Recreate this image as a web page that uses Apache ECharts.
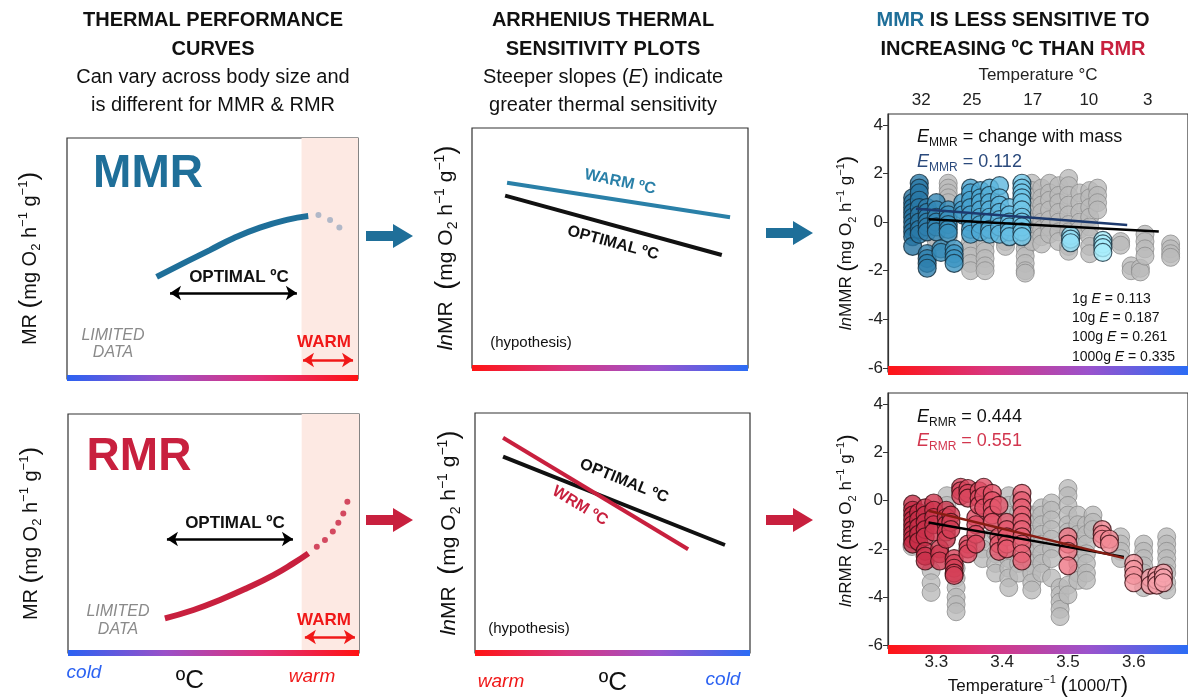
<!DOCTYPE html>
<html>
<head>
<meta charset="utf-8">
<script src="https://cdn.jsdelivr.net/npm/echarts@6/dist/echarts.min.js"></script>
<style>
  html, body { margin: 0; padding: 0; background: #fff; }
  #chart { width: 1188px; height: 698px; }
</style>
</head>
<body>
<div id="chart"></div>
<script>
const FONT = "'Liberation Sans', Arial, sans-serif";

// ---- conceptual panels (0-100 panel units) ----
const mmrCurve = [[30.8, 42.4], [41.1, 48.7], [49.1, 53.5], [57.2, 58.4], [66.3, 62.8], [75.5, 66.0], [82.9, 67.6]];
const mmrCurveDots = [[86.4, 68.0], [90.4, 66.0], [93.6, 62.9]];
const rmrCurve = [[33.3, 14.5], [43.1, 18.0], [52.2, 22.2], [61.4, 27.1], [70.6, 32.6], [77.4, 37.5], [82.6, 41.7]];
const rmrCurveDots = [[85.5, 44.5], [88.3, 47.3], [91.0, 50.8], [92.9, 54.5], [94.6, 58.4], [96.0, 63.3]];
const warmZone = [80.6, 100];
const optimalArrowTop = [[35.4, 35.7], [79.0, 35.7]];
const warmArrowTop = [[81.1, 7.9], [98.3, 7.9]];
const optimalArrowBot = [[34.0, 47.7], [77.3, 47.7]];
const warmArrowBot = [[81.4, 6.7], [98.6, 6.7]];

const hypWarmMMR = [[12.7, 77.2], [93.5, 62.8]];
const hypOptMMR = [[12.0, 71.8], [90.5, 47.1]];
const hypWarmRMR = [[10.2, 89.7], [77.5, 43.2]];
const hypOptRMR = [[10.2, 81.8], [90.9, 45.0]];

// ---- data panels: columns of [1000/T, [lnMR values]] ----
const mmrFocal = [
  [3.264, [1.0, 0.8, 0.6, 0.4, 0.2, 0.0, -0.2, -0.4, -0.6, -1.0]],
  [3.274, [1.6, 1.4, 1.2, 0.9, 0.6, 0.3, 0.0, -0.3, -0.5]],
  [3.286, [0.6, 0.4, 0.2, 0.0, -0.2, -0.4, -1.3, -1.5, -1.7, -1.9]],
  [3.300, [0.8, 0.5, 0.2, 0.0, -0.2, -0.4]],
  [3.307, [-1.1, -1.25]],
  [3.318, [0.5, 0.3, 0.1, -0.1, -0.3, -0.45]],
  [3.327, [-1.1, -1.3, -1.5, -1.7]],
  [3.340, [0.8, 0.5, 0.3]],
  [3.352, [1.4, 1.2, 0.9, 0.6, 0.3, 0.0, -0.3, -0.5]],
  [3.367, [1.3, 1.0, 0.8, 0.5, 0.2, -0.1, -0.4]],
  [3.381, [1.4, 1.1, 0.8, 0.5, 0.2, 0.0, -0.3, -0.5]],
  [3.396, [1.5, 1.0, 0.7, 0.4, 0.1, -0.2, -0.5]],
  [3.411, [0.6, 0.3, 0.0, -0.2, -0.4, -0.6]],
  [3.430, [1.6, 1.4, 1.2, 1.0, 0.8, 0.5, 0.2, 0.0, -0.2, -0.4, -0.6]],
  [3.504, [-0.55, -0.7, -0.85]],
  [3.553, [-0.75, -0.9, -1.05, -1.25]]
];
const mmrAll = [
  [3.300, [-0.6, -0.8]],
  [3.318, [1.6, 1.4, 1.2, 1.0, 0.8, -0.6]],
  [3.352, [-0.8, -1.1, -1.4, -1.7, -2.0]],
  [3.374, [-0.9, -1.2, -1.5, -1.8, -2.0]],
  [3.405, [-0.8, -1.0]],
  [3.435, [-0.8, -1.1, -1.4, -1.7, -2.0, -2.1]],
  [3.445, [1.6, 1.3, 1.0, 0.6, 0.3, 0.0, -0.4, -0.8]],
  [3.460, [1.4, 1.0, 0.7, 0.4, 0.0, -0.3, -0.6, -0.9]],
  [3.472, [1.6, 1.2, 0.9, 0.5, 0.1, -0.2, -0.5]],
  [3.486, [1.5, 1.1, 0.8, 0.4, 0.0, -0.4, -0.8]],
  [3.501, [1.8, 1.5, 1.1, 0.7, 0.3, -0.1, -0.4, -1.0, -1.2]],
  [3.518, [1.2, 0.8, 0.4, 0.0, -0.3]],
  [3.533, [1.3, 1.0, 0.6, 0.2, -0.2, -0.6, -1.0, -1.3]],
  [3.545, [1.4, 1.1, 0.8, 0.5]],
  [3.580, [-0.8, -0.95]],
  [3.596, [-1.8, -2.0]],
  [3.610, [-1.9, -2.05]],
  [3.617, [-0.5, -0.8, -1.1, -1.4]],
  [3.656, [-0.9, -1.1, -1.3, -1.45]]
];
const rmrFocal = [
  [3.264, [-0.15, -0.4, -0.6, -0.8, -1.0, -1.2, -1.4, -1.6, -1.8]],
  [3.273, [-0.5, -0.8, -1.1, -1.4, -1.7]],
  [3.283, [-0.3, -0.6, -0.9, -1.2, -1.5, -2.1, -2.3, -2.5]],
  [3.296, [-0.1, -0.4, -0.7, -1.0, -1.3]],
  [3.305, [-2.0, -2.2, -2.5]],
  [3.315, [-0.4, -0.7, -1.0, -1.3, -1.6]],
  [3.322, [-0.6, -0.9, -1.2]],
  [3.327, [-2.4, -2.6, -2.8, -3.0, -3.1]],
  [3.337, [0.55, 0.4, 0.2]],
  [3.348, [0.5, 0.3, 0.1, -1.8, -2.0, -2.2]],
  [3.360, [-0.7, -1.0, -1.4, -1.8]],
  [3.365, [0.4, 0.1, -0.2]],
  [3.372, [0.55, 0.2, -0.3]],
  [3.385, [0.3, 0.0, -0.3, -0.6, -0.9]],
  [3.395, [-0.2, -1.5, -1.8, -2.1]],
  [3.407, [-0.9, -1.2, -1.5, -1.8, -2.0]],
  [3.430, [0.3, 0.0, -0.3, -0.6, -0.9, -1.2, -1.5, -1.8, -2.2, -2.5]],
  [3.500, [-1.5, -1.8, -2.1, -2.7]],
  [3.552, [-1.2, -1.4, -1.6]],
  [3.563, [-1.6, -1.8]],
  [3.600, [-2.6, -2.85, -3.1, -3.4]],
  [3.625, [-3.2, -3.5]],
  [3.635, [-3.1, -3.3, -3.5]],
  [3.645, [-3.0, -3.2, -3.4]]
];
const rmrAll = [
  [3.263, [-1.8, -1.9]],
  [3.292, [-2.9, -3.4, -3.8]],
  [3.316, [0.2, -0.2, -0.5, -0.9, -1.5]],
  [3.330, [-2.8, -3.2, -3.6, -4.0, -4.3, -4.6]],
  [3.370, [-1.6, -2.0, -2.4]],
  [3.390, [-0.5, -0.9, -1.3, -2.2, -2.6, -3.0]],
  [3.410, [0.2, -0.2, -0.6, -1.0, -2.4, -2.8, -3.2, -3.6]],
  [3.425, [0.0, -0.5, -2.6, -3.0]],
  [3.445, [-0.6, -1.0, -1.4, -1.8, -2.2, -2.6, -3.0, -3.4, -3.7]],
  [3.460, [-0.3, -0.6, -1.0, -1.4, -1.8, -2.2, -2.6, -3.0]],
  [3.475, [-0.1, -0.4, -0.8, -1.2, -1.6, -2.0, -2.4, -3.2]],
  [3.488, [-3.6, -3.9, -4.2, -4.5, -4.8]],
  [3.500, [0.5, 0.2, -0.2, -0.6, -1.0, -1.3, -3.5, -3.9]],
  [3.515, [-0.6, -1.0, -1.4, -1.8, -2.2, -2.6, -3.0, -3.3]],
  [3.528, [-1.0, -1.4, -1.8, -2.2, -2.6, -3.0, -3.3]],
  [3.538, [-0.6, -0.9, -1.2]],
  [3.580, [-1.5, -1.8, -2.1, -2.4]],
  [3.615, [-1.8, -2.1, -2.4, -2.7, -3.0, -3.3, -3.6]],
  [3.650, [-1.5, -1.8, -2.1, -2.4, -2.7, -3.0, -3.4, -3.7]]
];
const mmrFitFocal = [[3.269, 0.55], [3.590, -0.12]];
const mmrFitAll = [[3.288, 0.12], [3.638, -0.39]];
const rmrFitAll = [[3.288, -0.91], [3.585, -2.33]];
const rmrFitFocal = [[3.288, -0.42], [3.585, -2.38]];

const tempTicksC = [32, 25, 17, 10, 3];
const invTicks = [3.3, 3.4, 3.5, 3.6];
const yTicks = [-6, -4, -2, 0, 2, 4];
const massLabels = ['1g', '10g', '100g', '1000g'];
const massE = ['0.113', '0.187', '0.261', '0.335'];

const XMIN = 3.2265, XMAX = 3.2265 + 310 / 680;

const BLUE = '#1f6f99', RED = '#c8203e', WARMRED = '#f01818';

function flatten(cols) {
  const out = [];
  cols.forEach(c => c[1].forEach(v => out.push([c[0], v])));
  return out;
}

// rich styles for axis names (O2 subscript, -1 superscripts)
function unitRich(s) {
  return {
    it: { fontFamily: FONT, fontSize: s, fontStyle: 'italic', color: '#111', lineHeight: s + 6 },
    n: { fontFamily: FONT, fontSize: s, color: '#111', lineHeight: s + 6 },
    pa: { fontFamily: FONT, fontSize: Math.round(s * 1.3), color: '#111', lineHeight: s + 6 },
    sb: { fontFamily: FONT, fontSize: Math.round(s * 0.65), color: '#111', verticalAlign: 'bottom', lineHeight: Math.round(s * 0.65) },
    sp: { fontFamily: FONT, fontSize: Math.round(s * 0.65), color: '#111', verticalAlign: 'top', lineHeight: Math.round(s * 0.65) }
  };
}
const unitTail = '{pa|(}{n|mg O}{sb|2}{n| h}{sp|−1}{n| g}{sp|−1}{pa|)}';

function conceptY(gi, name, gap, size) {
  return {
    gridIndex: gi, type: 'value', min: 0, max: 100,
    axisLine: { show: false }, axisTick: { show: false }, axisLabel: { show: false }, splitLine: { show: false },
    name: name, nameLocation: 'middle', nameRotate: 90, nameGap: gap,
    nameTextStyle: { rich: unitRich(size) }
  };
}
function conceptX(gi) {
  return { gridIndex: gi, type: 'value', min: 0, max: 100, show: false };
}
function dataY(gi, name, min) {
  return {
    gridIndex: gi, type: 'value', min: min, max: 4.45,
    axisLine: { show: true, lineStyle: { color: '#333', width: 1.2 } },
    axisTick: { show: true, length: 5, customValues: yTicks, lineStyle: { color: '#333' } },
    axisLabel: { customValues: yTicks, fontSize: 17, color: '#222', margin: 5, fontFamily: FONT },
    splitLine: { show: false },
    name: name, nameLocation: 'middle', nameRotate: 90, nameGap: 30,
    nameTextStyle: { rich: unitRich(17) }
  };
}

const gridStyle = { show: true, borderColor: '#333', borderWidth: 1.2, backgroundColor: 'transparent' };

const series = [];
function add(s) { series.push(s); return series.length - 1; }

function arrowLine(pts, color) {
  return [{ coord: pts[0], lineStyle: { color: color, width: 2.5, type: 'solid' } }, { coord: pts[1] }];
}

// left column
add({
  type: 'line', xAxisIndex: 0, yAxisIndex: 0, data: mmrCurve, smooth: true, showSymbol: false,
  lineStyle: { color: BLUE, width: 6 },
  markArea: { silent: true, itemStyle: { color: '#fde9e3' }, data: [[{ xAxis: warmZone[0] }, { xAxis: warmZone[1] }]] },
  markLine: { silent: true, symbol: ['arrow', 'arrow'], symbolSize: 11, label: { show: false },
    data: [arrowLine(optimalArrowTop, '#000'), arrowLine(warmArrowTop, WARMRED)] }
});
add({ type: 'scatter', xAxisIndex: 0, yAxisIndex: 0, data: mmrCurveDots, symbolSize: 6, itemStyle: { color: '#9eabc0' } });
add({
  type: 'line', xAxisIndex: 1, yAxisIndex: 1, data: rmrCurve, smooth: true, showSymbol: false,
  lineStyle: { color: RED, width: 6 },
  markArea: { silent: true, itemStyle: { color: '#fde9e3' }, data: [[{ xAxis: 80.3 }, { xAxis: 100 }]] },
  markLine: { silent: true, symbol: ['arrow', 'arrow'], symbolSize: 11, label: { show: false },
    data: [arrowLine(optimalArrowBot, '#000'), arrowLine(warmArrowBot, WARMRED)] }
});
add({ type: 'scatter', xAxisIndex: 1, yAxisIndex: 1, data: rmrCurveDots, symbolSize: 6, itemStyle: { color: RED } });

// middle column
add({ type: 'line', xAxisIndex: 2, yAxisIndex: 2, data: hypWarmMMR, showSymbol: false, lineStyle: { color: '#2a80a8', width: 4 } });
add({ type: 'line', xAxisIndex: 2, yAxisIndex: 2, data: hypOptMMR, showSymbol: false, lineStyle: { color: '#111', width: 4 } });
add({ type: 'line', xAxisIndex: 3, yAxisIndex: 3, data: hypOptRMR, showSymbol: false, lineStyle: { color: '#111', width: 4 } });
add({ type: 'line', xAxisIndex: 3, yAxisIndex: 3, data: hypWarmRMR, showSymbol: false, lineStyle: { color: RED, width: 4 } });

// right column
const grayStyle = { color: '#bababa', borderColor: '#8c8c8c', borderWidth: 1 };
add({ type: 'scatter', xAxisIndex: 4, yAxisIndex: 4, data: flatten(mmrAll), symbolSize: 18, itemStyle: grayStyle });
const mmrIdx = add({ type: 'scatter', xAxisIndex: 4, yAxisIndex: 4, data: flatten(mmrFocal), symbolSize: 18,
  itemStyle: { borderColor: '#17303f', borderWidth: 1.2 } });
add({ type: 'line', xAxisIndex: 4, yAxisIndex: 4, data: mmrFitAll, showSymbol: false, lineStyle: { color: '#000', width: 2.5 } });
add({ type: 'line', xAxisIndex: 4, yAxisIndex: 4, data: mmrFitFocal, showSymbol: false, lineStyle: { color: '#1d3a6e', width: 2.5 } });

add({ type: 'scatter', xAxisIndex: 6, yAxisIndex: 5, data: flatten(rmrAll), symbolSize: 18, itemStyle: grayStyle });
const rmrIdx = add({ type: 'scatter', xAxisIndex: 6, yAxisIndex: 5, data: flatten(rmrFocal), symbolSize: 18,
  itemStyle: { borderColor: '#3a0c12', borderWidth: 1.2 } });
add({ type: 'line', xAxisIndex: 6, yAxisIndex: 5, data: rmrFitAll, showSymbol: false, lineStyle: { color: '#000', width: 2.5 } });
add({ type: 'line', xAxisIndex: 6, yAxisIndex: 5, data: rmrFitFocal, showSymbol: false, lineStyle: { color: '#861c12', width: 2.5 } });

// ---- decorations ----
function grad(colors) {
  return { type: 'linear', x: 0, y: 0, x2: 1, y2: 0,
    colorStops: colors.map((c, i) => ({ offset: i / (colors.length - 1), color: c })) };
}
const coldWarm = ['#2b62f2', '#9a50c8', '#e0307a', '#ff1212'];
const warmCold = ['#ff1414', '#d9357f', '#9b52cc', '#2b6cf5'];
function bar(x, y, w, h, colors) {
  return { type: 'rect', z: 50, shape: { x: x, y: y, width: w, height: h }, style: { fill: grad(colors) } };
}
function T(x, y, text, style, rot) {
  return { type: 'text', x: x, y: y, z: 60, rotation: (rot || 0) * Math.PI / 180,
    style: Object.assign({ text: text, fontFamily: FONT, fontSize: 20, fill: '#111', align: 'center', verticalAlign: 'middle' }, style || {}) };
}
function bigArrow(x, y, color) {
  return { type: 'polygon', x: x, y: y, z: 40,
    shape: { points: [[0, -5], [27, -5], [27, -12], [47, 0], [27, 12], [27, 5], [0, 5]] }, style: { fill: color } };
}
const eRich = (color) => ({
  i: { fontFamily: FONT, fontSize: 18, fontStyle: 'italic', fill: color, lineHeight: 24 },
  s: { fontFamily: FONT, fontSize: 12, fill: color, verticalAlign: 'bottom', lineHeight: 12 },
  n: { fontFamily: FONT, fontSize: 18, fill: color, lineHeight: 24 }
});
const massRich = { i: { fontFamily: FONT, fontSize: 14, fontStyle: 'italic', fill: '#111' } };

const graphic = [
  bar(67, 375, 291, 6, coldWarm),
  bar(68, 650, 291, 6, coldWarm),
  bar(472, 365, 276, 6, warmCold),
  bar(475, 650, 275, 6, warmCold),
  bar(888, 366, 300, 9, warmCold),
  bar(888, 645, 300, 9, warmCold),
  bigArrow(366, 236, BLUE), bigArrow(766, 233, BLUE),
  bigArrow(366, 520, RED), bigArrow(766, 520, RED),

  T(213, 20, 'THERMAL PERFORMANCE', { fontWeight: 'bold' }),
  T(213, 49, 'CURVES', { fontWeight: 'bold' }),
  T(213, 77, 'Can vary across body size and'),
  T(213, 105, 'is different for MMR & RMR'),
  T(603, 20, 'ARRHENIUS THERMAL', { fontWeight: 'bold' }),
  T(603, 49, 'SENSITIVITY PLOTS', { fontWeight: 'bold' }),
  T(603, 77, 'Steeper slopes ({i|E}) indicate', { rich: { i: { fontFamily: FONT, fontSize: 20, fontStyle: 'italic', fill: '#111' } } }),
  T(603, 105, 'greater thermal sensitivity'),
  T(1013, 20, '{b|MMR} IS LESS SENSITIVE TO', { fontWeight: 'bold', rich: { b: { fontFamily: FONT, fontSize: 20, fontWeight: 'bold', fill: BLUE } } }),
  T(1013, 49, 'INCREASING ºC THAN {r|RMR}', { fontWeight: 'bold', rich: { r: { fontFamily: FONT, fontSize: 20, fontWeight: 'bold', fill: RED } } }),

  T(148, 174, 'MMR', { fontWeight: 'bold', fontSize: 46, fill: BLUE }),
  T(239, 277, 'OPTIMAL ºC', { fontWeight: 'bold', fontSize: 17 }),
  T(113, 336, 'LIMITED', { fontStyle: 'italic', fontSize: 16, fill: '#8a8a8a' }),
  T(113, 353, 'DATA', { fontStyle: 'italic', fontSize: 16, fill: '#8a8a8a' }),
  T(324, 342, 'WARM', { fontWeight: 'bold', fontSize: 17, fill: WARMRED }),

  T(139, 457, 'RMR', { fontWeight: 'bold', fontSize: 46, fill: RED }),
  T(235, 523, 'OPTIMAL ºC', { fontWeight: 'bold', fontSize: 17 }),
  T(118, 612, 'LIMITED', { fontStyle: 'italic', fontSize: 16, fill: '#8a8a8a' }),
  T(118, 630, 'DATA', { fontStyle: 'italic', fontSize: 16, fill: '#8a8a8a' }),
  T(324, 620, 'WARM', { fontWeight: 'bold', fontSize: 17, fill: WARMRED }),
  T(84, 673, 'cold', { fontStyle: 'italic', fontSize: 19, fill: '#2b62f2' }),
  T(190, 681, 'ºC', { fontSize: 26 }),
  T(312, 677, 'warm', { fontStyle: 'italic', fontSize: 19, fill: WARMRED }),

  T(620, 182, 'WARM ºC', { fontWeight: 'bold', fontSize: 16, fill: '#2a80a8' }, -12),
  T(613, 243, 'OPTIMAL ºC', { fontWeight: 'bold', fontSize: 16 }, -15),
  T(531, 343, '(hypothesis)', { fontSize: 15 }),
  T(624, 481, 'OPTIMAL ºC', { fontWeight: 'bold', fontSize: 16 }, -22),
  T(580, 506, 'WRM ºC', { fontWeight: 'bold', fontSize: 16, fill: RED }, -31),
  T(529, 629, '(hypothesis)', { fontSize: 15 }),
  T(501, 682, 'warm', { fontStyle: 'italic', fontSize: 19, fill: WARMRED }),
  T(613, 683, 'ºC', { fontSize: 26 }),
  T(723, 680, 'cold', { fontStyle: 'italic', fontSize: 19, fill: '#2b62f2' }),

  T(917, 137, '{i|E}{s|MMR}{n| = change with mass}', { align: 'left', rich: eRich('#111') }),
  T(917, 162, '{i|E}{s|MMR}{n| = 0.112}', { align: 'left', rich: eRich('#2b4a7c') }),
  T(917, 417, '{i|E}{s|RMR}{n| = 0.444}', { align: 'left', rich: eRich('#111') }),
  T(917, 441, '{i|E}{s|RMR}{n| = 0.551}', { align: 'left', rich: eRich('#d2364e') })
];
massLabels.forEach((m, i) => {
  graphic.push(T(1072, 299 + i * 19.3, m + ' {i|E} = ' + massE[i], { align: 'left', fontSize: 14, rich: massRich }));
});

const option = {
  animation: false,
  backgroundColor: '#fff',
  textStyle: { fontFamily: FONT },
  grid: [
    Object.assign({ left: 67, top: 138, width: 291, height: 241 }, gridStyle),
    Object.assign({ left: 68, top: 414, width: 291, height: 239 }, gridStyle),
    Object.assign({ left: 472, top: 128, width: 276, height: 240 }, gridStyle),
    Object.assign({ left: 475, top: 413, width: 275, height: 240 }, gridStyle),
    Object.assign({ left: 888, top: 114, width: 310, height: 258 }, gridStyle),
    Object.assign({ left: 888, top: 393, width: 310, height: 258 }, gridStyle)
  ],
  xAxis: [
    conceptX(0), conceptX(1), conceptX(2), conceptX(3),
    { gridIndex: 4, type: 'value', min: XMIN, max: XMAX, show: false },
    { gridIndex: 4, type: 'value', position: 'top', min: XMIN, max: XMAX,
      axisLine: { show: false }, axisTick: { show: false }, splitLine: { show: false },
      axisLabel: { customValues: tempTicksC.map(c => 1000 / (c + 273.15)),
        formatter: v => String(Math.round(1000 / v - 273.15)), fontSize: 17, color: '#222', margin: 5 },
      name: 'Temperature °C', nameLocation: 'middle', nameGap: 30,
      nameTextStyle: { fontSize: 17, color: '#222' } },
    { gridIndex: 5, type: 'value', min: XMIN, max: XMAX,
      axisLine: { show: false }, axisTick: { show: false }, splitLine: { show: false },
      axisLabel: { customValues: invTicks, formatter: v => v.toFixed(1), fontSize: 17, color: '#222', margin: 5 },
      name: '{n|Temperature}{sp|−1}{n| }{pa|(}{n|1000/T}{pa|)}', nameLocation: 'middle', nameGap: 26,
      nameTextStyle: { rich: unitRich(17) } }
  ],
  yAxis: [
    conceptY(0, '{n|MR }' + unitTail, 24, 20),
    conceptY(1, '{n|MR }' + unitTail, 24, 20),
    conceptY(2, '{it|ln}{n|MR  }' + unitTail, 12, 21),
    conceptY(3, '{it|ln}{n|MR  }' + unitTail, 12, 21),
    dataY(4, '{it|ln}{n|MMR }' + unitTail, -6.17),
    dataY(5, '{it|ln}{n|RMR }' + unitTail, -6.12)
  ],
  visualMap: [
    { type: 'continuous', show: false, seriesIndex: mmrIdx, dimension: 0, min: 3.26, max: 3.56,
      inRange: { color: ['#2472a0', '#4aa7d4', '#7fd4f2', '#aaf0fc'] } },
    { type: 'continuous', show: false, seriesIndex: rmrIdx, dimension: 0, min: 3.26, max: 3.65,
      inRange: { color: ['#c52a44', '#e4546a', '#ef7c89', '#f7a4ad'] } }
  ],
  graphic: graphic,
  series: series
};

const chart = echarts.init(document.getElementById('chart'), null, { renderer: 'canvas', width: 1188, height: 698 });
chart.setOption(option);
</script>
</body>
</html>
